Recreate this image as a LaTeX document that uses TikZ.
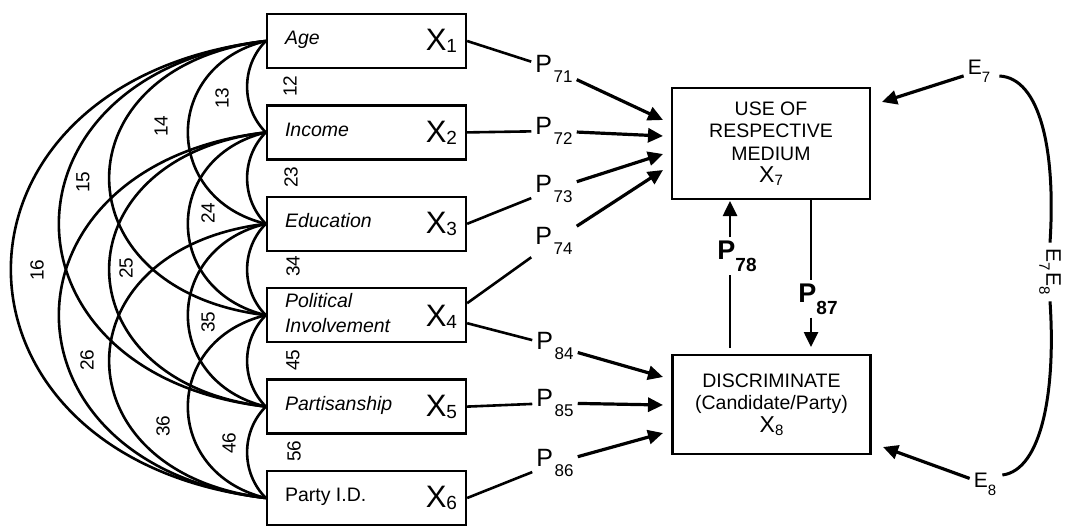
\documentclass[tikz,border=0pt]{standalone}
\usepackage{fontspec}
\setmainfont{Liberation Sans}
\usetikzlibrary{arrows.meta,calc}

\newcommand{\mysub}[1]{\raisebox{-2pt}{\fontsize{19}{19}\selectfont #1}}
\newcommand{\Xv}[1]{\raisebox{-6pt}{{\fontsize{31}{31}\selectfont X}\mysub{#1}}}
\newcommand{\Pv}[1]{{\fontsize{25}{25}\selectfont P}\hspace{1.5pt}\raisebox{-10pt}{\fontsize{17}{17}\selectfont #1}}
\newcommand{\Pb}[1]{{\bfseries\fontsize{27}{27}\selectfont P}\raisebox{-12pt}{\bfseries\fontsize{19}{19}\selectfont #1}}
\newcommand{\Ev}[1]{{\fontsize{21}{21}\selectfont E}\raisebox{-8pt}{\fontsize{15}{15}\selectfont #1}}
\newcommand{\boxlab}[2]{\makebox[199pt][l]{\hspace*{18pt}{\fontsize{19.5}{25}\selectfont #1}\hfill\Xv{#2}\hspace*{9pt}}}

\tikzset{
  lbox/.style={draw, line width=2.3pt, minimum width=199pt, minimum height=54pt, inner sep=0pt},
  rbox/.style={draw, line width=2.3pt, minimum width=198pt, inner sep=0pt, align=center,
               font=\fontsize{19.5}{22.5}\selectfont},
  corr/.style={line width=2.6pt},
  clab/.style={rotate=90, inner sep=0pt, font=\fontsize{19}{19}\selectfont},
  plab/.style={inner sep=4pt},
  seg/.style={line width=2.6pt},
  arr/.style={line width=3.2pt, -{Triangle[length=15pt,width=14pt]}},
  vline/.style={line width=2.2pt},
  varr/.style={line width=2.6pt, -{Triangle[length=15pt,width=14pt]}},
  eline/.style={line width=3pt},
}

\begin{document}
\begin{tikzpicture}[x=1pt,y=-1pt]
\useasboundingbox (0,0) rectangle (1073,530);

% predictor boxes
\node[lbox] (b1) at (366.5,41)    {\boxlab{\textit{Age}}{1}};
\node[lbox] (b2) at (366.5,132.4) {\boxlab{\textit{Income}}{2}};
\node[lbox] (b3) at (366.5,223.8) {\boxlab{\textit{Education}}{3}};
\node[lbox] (b4) at (366.5,315.2) {\boxlab{\begin{tabular}{@{}l@{}}\itshape Political\\\itshape Involvement\end{tabular}}{4}};
\node[lbox] (b5) at (366.5,406.6) {\boxlab{\textit{Partisanship}}{5}};
\node[lbox] (b6) at (366.5,498)   {\boxlab{Party I.D.}{6}};

% correlation arcs
\draw[corr] (b1.west) .. controls +(-25,25) and +(-25,-25) .. (b2.west);
\draw[corr] (b2.west) .. controls +(-25,25) and +(-25,-25) .. (b3.west);
\draw[corr] (b3.west) .. controls +(-25,25) and +(-25,-25) .. (b4.west);
\draw[corr] (b4.west) .. controls +(-25,25) and +(-25,-25) .. (b5.west);
\draw[corr] (b5.west) .. controls +(-25,25) and +(-25,-25) .. (b6.west);
\draw[corr] (b1.west) .. controls +(-104,25) and +(-104,-25) .. (b3.west);
\draw[corr] (b2.west) .. controls +(-104,25) and +(-104,-25) .. (b4.west);
\draw[corr] (b3.west) .. controls +(-104,25) and +(-104,-25) .. (b5.west);
\draw[corr] (b4.west) .. controls +(-104,25) and +(-104,-25) .. (b6.west);
\draw[corr] (b1.west) .. controls +(-209,25) and +(-209,-25) .. (b4.west);
\draw[corr] (b2.west) .. controls +(-209,25) and +(-209,-25) .. (b5.west);
\draw[corr] (b3.west) .. controls +(-209,25) and +(-209,-25) .. (b6.west);
\draw[corr] (b1.west) .. controls +(-276,32) and +(-276,-32) .. (b5.west);
\draw[corr] (b2.west) .. controls +(-276,32) and +(-276,-32) .. (b6.west);
\draw[corr] (b1.west) .. controls +(-340,40) and +(-340,-40) .. (b6.west);

% correlation labels
\node[clab] (l12) at (290,86) {12};
\node[clab] (l23) at (291,177) {23};
\node[clab] (l34) at (293,266) {34};
\node[clab] (l45) at (293,360) {45};
\node[clab] (l56) at (294,451) {56};
\node[clab] (l13) at (222,98) {13};
\node[clab] (l24) at (208,213) {24};
\node[clab] (l35) at (208,322) {35};
\node[clab] (l46) at (229,443) {46};
\node[clab] (l14) at (161,126) {14};
\node[clab] (l25) at (126,268) {25};
\node[clab] (l36) at (163,426) {36};
\node[clab] (l15) at (83,182) {15};
\node[clab] (l26) at (87,360) {26};
\node[clab] (l16) at (37,270) {16};

% endogenous boxes
\node[rbox, minimum height=111pt] (x7) at (771,143.5)
  {USE OF\\RESPECTIVE\\MEDIUM\\{\fontsize{23}{26}\selectfont X}\raisebox{-3pt}{\fontsize{15}{15}\selectfont 7}};
\node[rbox, minimum height=99pt] (x8) at (771.5,404.5)
  {DISCRIMINATE\\(Candidate/Party)\\{\fontsize{23}{25}\selectfont X}\raisebox{-3pt}{\fontsize{15}{15}\selectfont 8}};

% path labels
\node[plab] (p71) at (554,69)  {\Pv{71}};
\node[plab] (p72) at (554,131) {\Pv{72}};
\node[plab] (p73) at (554,189) {\Pv{73}};
\node[plab] (p74) at (554,241) {\Pv{74}};
\node[plab] (p84) at (555,346) {\Pv{84}};
\node[plab] (p85) at (555,403) {\Pv{85}};
\node[plab] (p86) at (555,463) {\Pv{86}};

\coordinate (t71) at (663,120);
\coordinate (t72) at (663,136);
\coordinate (t73) at (663,154);
\coordinate (t74) at (663,170);
\coordinate (t84) at (663,377);
\coordinate (t85) at (663,405);
\coordinate (t86) at (663,433);

\draw[seg] (b1.east) -- (p71);
\draw[seg] (b2.east) -- (p72);
\draw[seg] (b3.east) -- (p73);
\draw[seg] ([yshift=12pt]b4.east) -- (p74);
\draw[seg] ([yshift=-8pt]b4.east) -- (p84);
\draw[seg] (b5.east) -- (p85);
\draw[seg] (b6.east) -- (p86);

\draw[arr] (p71) -- (t71);
\draw[arr] (p72) -- (t72);
\draw[arr] (p73) -- (t73);
\draw[arr] (p74) -- (t74);
\draw[arr] (p84) -- (t84);
\draw[arr] (p85) -- (t85);
\draw[arr] (p86) -- (t86);

% reciprocal paths
\node[inner sep=3pt] (p78) at (737,256) {\Pb{78}};
\node[inner sep=3pt] (p87) at (818,299) {\Pb{87}};
\coordinate (c78) at (730,348);
\coordinate (d78) at (730,201);
\coordinate (c87) at (811,347);
\draw[vline] (c78) -- (c78 |- p78.south);
\draw[varr] (c78 |- p78.north) -- (d78);
\draw[vline] (c87 |- x7.south) -- (c87 |- p87.north);
\draw[varr] (c87 |- p87.south) -- (c87);

% disturbances
\node[inner sep=4pt] (e7) at (979,71) {\Ev{7}};
\node[inner sep=4pt] (e8) at (985,484) {\Ev{8}};
\coordinate (t7) at (882,102);
\coordinate (t8) at (883,447);
\draw[arr] (e7) -- (t7);
\draw[arr] (e8) -- (t8);

\node[rotate=-90, inner sep=6pt] (ee) at (1050,272)
  {{\fontsize{21}{21}\selectfont E}\raisebox{-7pt}{\fontsize{15}{15}\selectfont 7}\,{\fontsize{21}{21}\selectfont E}\raisebox{-7pt}{\fontsize{15}{15}\selectfont 8}};
\draw[eline] ([shift={(5pt,-5pt)}]e7.east) .. controls (1040,78) and (1056,150) .. (ee.west);
\draw[eline] (ee.east) .. controls (1056,390) and (1042,470) .. ([shift={(2pt,9pt)}]e8.east);
\end{tikzpicture}
\end{document}
